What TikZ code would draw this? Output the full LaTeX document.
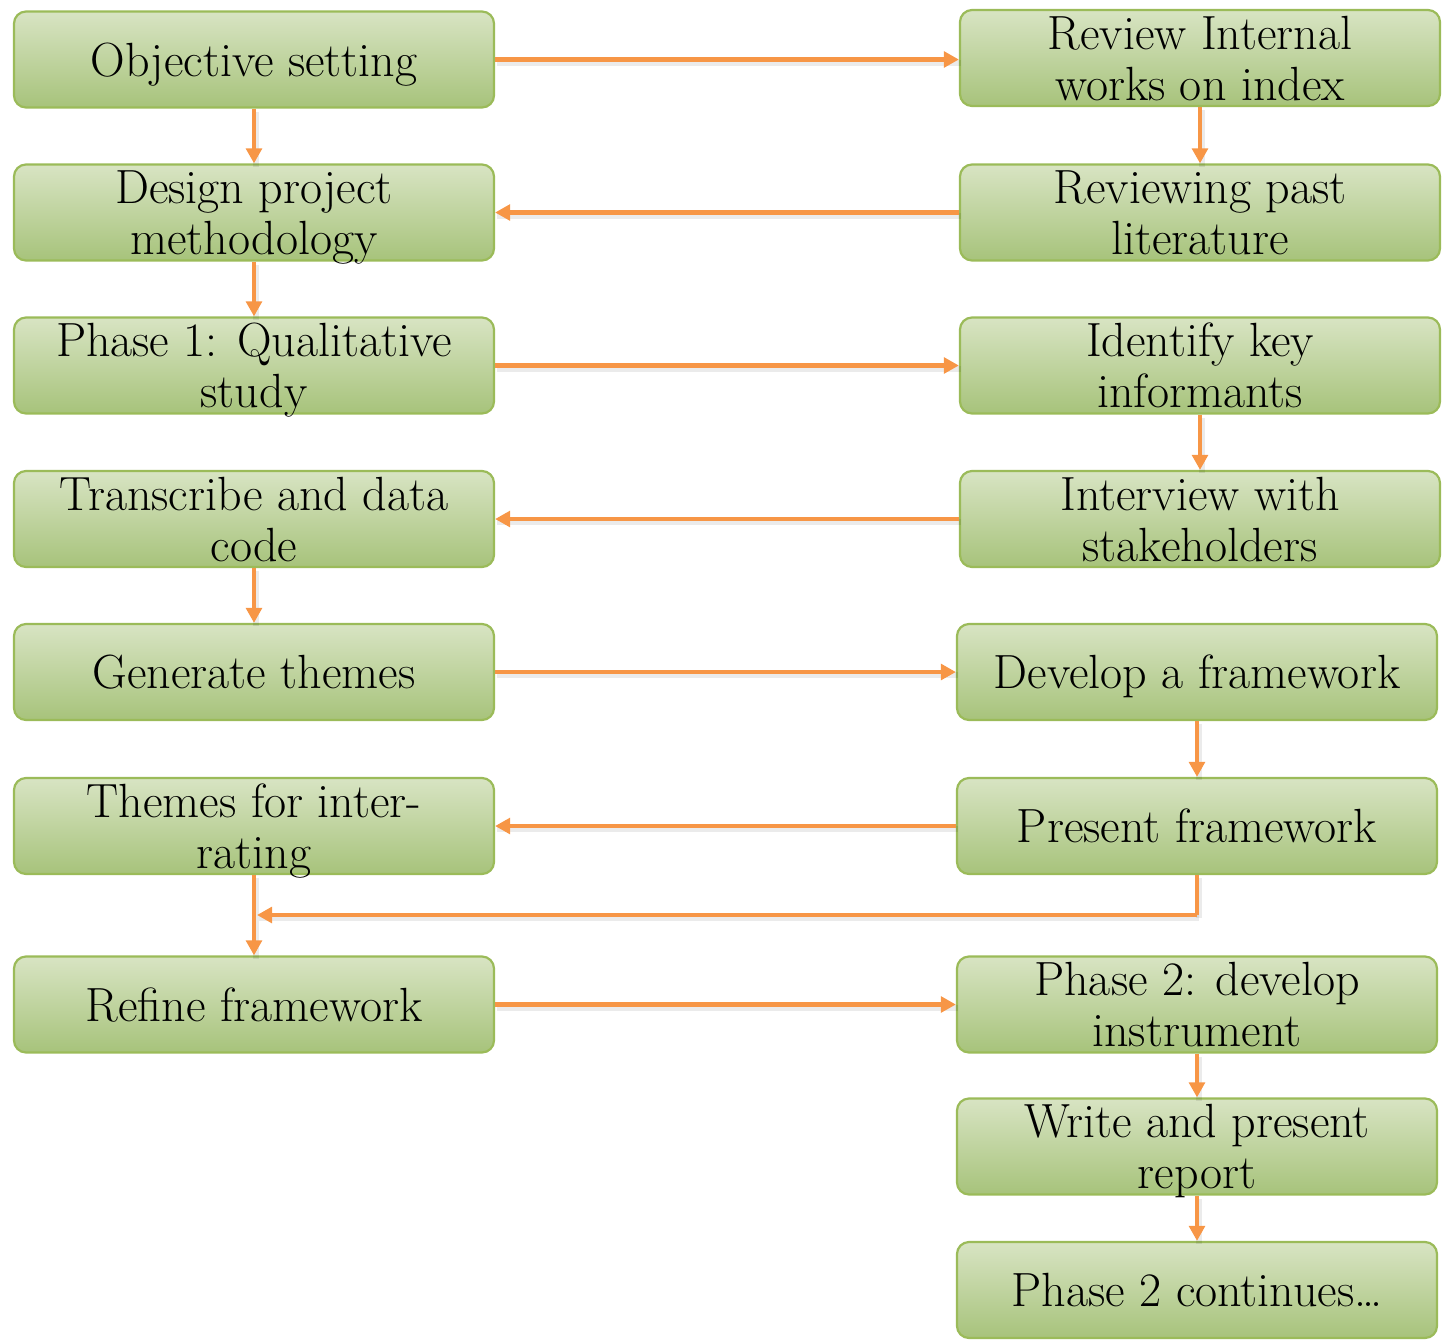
\documentclass[tikz,border=0pt]{standalone}
\usetikzlibrary{arrows.meta}
\definecolor{boxtop}{HTML}{D8E4C3}
\definecolor{boxbot}{HTML}{A7C37B}
\definecolor{boxborder}{HTML}{9BBB59}
\definecolor{flowcol}{HTML}{F79646}
\tikzset{
  box/.style={draw=boxborder, line width=1.1pt, rounded corners=6pt,
    top color=boxtop, bottom color=boxbot,
    minimum width=240pt, minimum height=48pt, inner sep=0pt,
    text depth=0pt,
    align=center, font=\fontsize{24}{25.5}\selectfont},
  shade line/.style={preaction={draw=black, draw opacity=0.08, line width=3.2pt, -,
      transform canvas={shift={(1pt,-1.6pt)}}}},
  flow/.style={draw=flowcol, line width=2.3pt, shade line,
    -{Triangle[length=7.5pt,width=7.8pt]}},
  plain/.style={draw=flowcol, line width=2.3pt, shade line}
}
\begin{document}
\begin{tikzpicture}[x=0.5pt,y=-0.5pt]
\useasboundingbox (0,0) rectangle (1447,1340);

% left column
\node[box] (obj)   at (254,59.5)  {Objective setting};
\node[box] (des)   at (254,212.5) {Design project\\methodology};
\node[box] (ph1)   at (254,365.5) {Phase 1: Qualitative\\study};
\node[box] (tra)   at (254,519)   {Transcribe and data\\code};
\node[box] (gen)   at (254,672)   {Generate themes};
\node[box] (thm)   at (254,826)   {Themes for inter-\\rating};
\node[box] (ref)   at (254,1004.5){Refine framework};

% right column
\node[box] (rev)   at (1200,58)    {Review Internal\\works on index};
\node[box] (lit)   at (1200,212.5) {Reviewing past\\literature};
\node[box] (key)   at (1200,365.5) {Identify key\\informants};
\node[box] (intv)  at (1200,519)   {Interview with\\stakeholders};
\node[box] (dev)   at (1197,672)   {Develop a framework};
\node[box] (pres)  at (1197,826)   {Present framework};
\node[box] (ph2)   at (1197,1004.5){Phase 2: develop\\instrument};
\node[box] (wri)   at (1197,1146.5){Write and present\\report};
\node[box] (cont)  at (1197,1290)  {Phase 2 continues\dots};

% horizontal links
\draw[flow] (obj.east) -- (obj.east -| rev.west);
\draw[flow] (lit.west) -- (lit.west -| des.east);
\draw[flow] (ph1.east) -- (ph1.east -| key.west);
\draw[flow] (intv.west) -- (intv.west -| tra.east);
\draw[flow] (gen.east) -- (gen.east -| dev.west);
\draw[flow] (pres.west) -- (pres.west -| thm.east);
\draw[flow] (ref.east) -- (ref.east -| ph2.west);

% vertical links
\draw[flow] (obj.south) -- (des.north);
\draw[flow] (des.south) -- (ph1.north);
\draw[flow] (tra.south) -- (gen.north);
\draw[flow] (rev.south) -- (lit.north);
\draw[flow] (key.south) -- (intv.north);
\draw[flow] (dev.south) -- (pres.north);
\draw[flow] (ph2.south) -- (wri.north);
\draw[flow] (wri.south) -- (cont.north);
\draw[flow] (thm.south) -- (ref.north);

% feedback from the presented framework into the refinement step
\coordinate (bend) at (1197,915);
\coordinate (join) at (257,915);
\draw[plain] (pres.south) -- (bend);
\draw[flow] (bend) -- (join);
\end{tikzpicture}
\end{document}
